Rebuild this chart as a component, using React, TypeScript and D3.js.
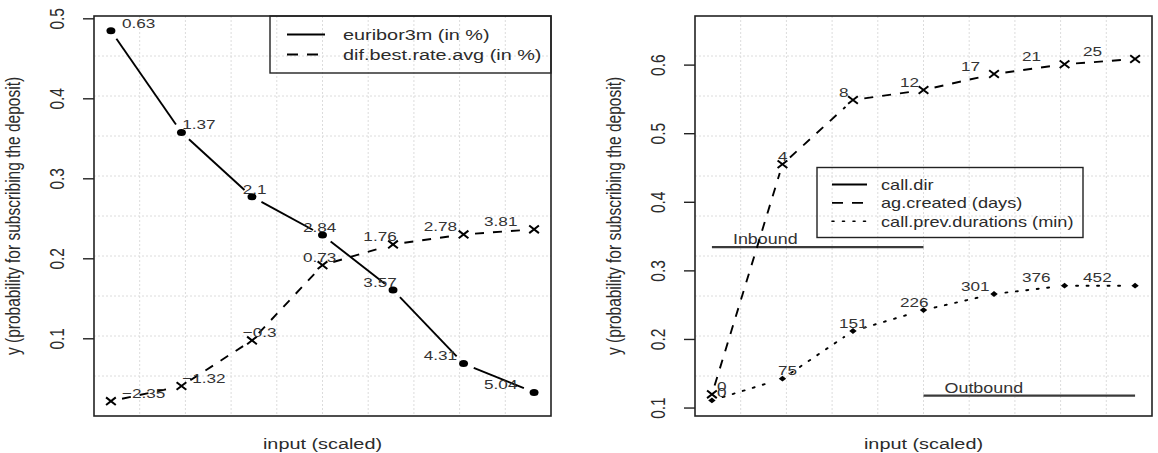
import React from "react";
import * as d3 from "d3";

const W = 1158;
const H = 453;
const SX = 1.28; // glyphs and point symbols are drawn wider than tall
const FONT = "'Liberation Sans', Arial, Helvetica, sans-serif";
const INK = "#2b2b2b";

// x positions (scaled input steps)
const steps = [1, 2, 3, 4, 5, 6, 7];

// left panel
const euriborLabels = ["0.63", "1.37", "2.1", "2.84", "3.57", "4.31", "5.04"];
const euriborProb = [0.485, 0.358, 0.2775, 0.2296, 0.161, 0.069, 0.033];
const difLabels = ["\u22122.35", "\u22121.32", "\u22120.3", "0.73", "1.76", "2.78", "3.81"];
const difProb = [0.022, 0.041, 0.098, 0.192, 0.218, 0.2305, 0.2368];
const leftTicks = [0.1, 0.2, 0.3, 0.4, 0.5];
const leftLegend = ["euribor3m (in %)", "dif.best.rate.avg (in %)"];

// right panel
const agLabels = ["0", "4", "8", "12", "17", "21", "25"];
const agProb = [0.12, 0.4554, 0.5491, 0.5637, 0.587, 0.6012, 0.6089];
const prevLabels = ["0", "75", "151", "226", "301", "376", "452"];
const prevProb = [0.1111, 0.1428, 0.2123, 0.2429, 0.2663, 0.2784, 0.2784];
const dirLevels = ["Inbound", "Outbound"];
const dirProb = [0.3347, 0.118];
const dirFrom = [1, 4];
const dirTo = [4, 7];
const rightTicks = [0.1, 0.2, 0.3, 0.4, 0.5, 0.6];
const rightYLim = [0.11, 0.65];
const rightLegend = ["call.dir", "ag.created (days)", "call.prev.durations (min)"];

const XLAB = "input (scaled)";
const YLAB = "y (probability for subscribing the deposit)";

const DASH = "9 9";
const DOT = "2 8.5";

// R-style 4% axis padding
const pad = (lo: number, hi: number): [number, number] => {
  const d = (hi - lo) * 0.04;
  return [lo - d, hi + d];
};

const TOP = 16;
const BOTTOM = 416;
const PW = 457;

type TxtProps = {
  x: number;
  y: number;
  size: number;
  anchor?: string;
  rotate?: boolean;
  fill?: string;
  children: React.ReactNode;
};

function Txt({ x, y, size, anchor = "start", rotate = false, fill = INK, children }: TxtProps) {
  const t = `translate(${x},${y}) scale(${SX},1)` + (rotate ? " rotate(-90)" : "");
  return (
    <text
      transform={t}
      fontSize={size}
      textAnchor={anchor}
      dominantBaseline="central"
      fill={fill}
      fontFamily={FONT}
    >
      {children}
    </text>
  );
}

// type="b" style: segments stop short of the points
function gappedSegments(px: number[], py: number[], gap: number) {
  const out: [number, number, number, number][] = [];
  for (let i = 0; i < px.length - 1; i++) {
    const dx = px[i + 1] - px[i];
    const dy = py[i + 1] - py[i];
    const len = Math.hypot(dx / SX, dy);
    if (len <= gap * 2) continue;
    const t = gap / len;
    out.push([px[i] + dx * t, py[i] + dy * t, px[i + 1] - dx * t, py[i + 1] - dy * t]);
  }
  return out;
}

function Dot({ x, y }: { x: number; y: number }) {
  return <ellipse cx={x} cy={y} rx={3.5 * SX} ry={3.5} fill="#000" />;
}

function Cross({ x, y }: { x: number; y: number }) {
  const a = 3.8;
  return (
    <path
      d={`M${x - a * SX},${y - a}L${x + a * SX},${y + a}M${x - a * SX},${y + a}L${x + a * SX},${y - a}`}
      stroke="#000"
      strokeWidth={2}
    />
  );
}

function Diamond({ x, y }: { x: number; y: number }) {
  const a = 2.9;
  return <path d={`M${x},${y - a}L${x + a * SX},${y}L${x},${y + a}L${x - a * SX},${y}Z`} fill="#000" />;
}

type SeriesProps = {
  x: d3.ScaleLinear<number, number>;
  y: d3.ScaleLinear<number, number>;
  lx: d3.ScaleLinear<number, number>;
  values: number[];
  labels: string[];
  dash?: string;
  marker: "dot" | "cross" | "diamond";
  cap?: "butt" | "round";
};

function Series({ x, y, lx, values, labels, dash, marker, cap = "butt" }: SeriesProps) {
  const px = steps.map((s) => x(s));
  const py = values.map((v) => y(v));
  const segs = gappedSegments(px, py, 9);
  return (
    <g>
      {segs.map((s, i) => (
        <line
          key={"s" + i}
          x1={s[0]}
          y1={s[1]}
          x2={s[2]}
          y2={s[3]}
          stroke="#000"
          strokeWidth={1.9}
          strokeDasharray={dash}
          strokeLinecap={cap}
        />
      ))}
      {steps.map((s, i) =>
        marker === "dot" ? (
          <Dot key={"m" + i} x={px[i]} y={py[i]} />
        ) : marker === "cross" ? (
          <Cross key={"m" + i} x={px[i]} y={py[i]} />
        ) : (
          <Diamond key={"m" + i} x={px[i]} y={py[i]} />
        )
      )}
      {steps.map((s, i) => (
        <Txt key={"l" + i} x={lx(s)} y={py[i] - 8} size={13.4} fill="#333">
          {labels[i]}
        </Txt>
      ))}
    </g>
  );
}

type FrameProps = {
  left: number;
  y: d3.ScaleLinear<number, number>;
  ticks: number[];
};

function Frame({ left, y, ticks }: FrameProps) {
  const right = left + PW;
  const gx = d3.range(1, 10).map((k) => left + (PW * k) / 10);
  const gy = d3.range(1, 10).map((k) => TOP + ((BOTTOM - TOP) * k) / 10);
  return (
    <g>
      {gx.map((g, i) => (
        <line key={"gx" + i} x1={g} x2={g} y1={TOP} y2={BOTTOM} stroke="#dcdcdc" strokeDasharray="2 2" />
      ))}
      {gy.map((g, i) => (
        <line key={"gy" + i} x1={left} x2={right} y1={g} y2={g} stroke="#dcdcdc" strokeDasharray="2 2" />
      ))}
      {ticks.map((t) => (
        <g key={t}>
          <line x1={left - 11} x2={left} y1={y(t)} y2={y(t)} stroke="#222" strokeWidth={1.4} />
          <Txt x={left - 37} y={y(t)} size={15.5} anchor="middle" rotate>
            {d3.format(".1f")(t)}
          </Txt>
        </g>
      ))}
      <Txt x={left - 81} y={(TOP + BOTTOM) / 2} size={15.5} anchor="middle" rotate>
        {YLAB}
      </Txt>
      <Txt x={left + PW / 2} y={443.5} size={15.5} anchor="middle">
        {XLAB}
      </Txt>
    </g>
  );
}

function Box({ left }: { left: number }) {
  return <rect x={left} y={TOP} width={PW} height={BOTTOM - TOP} fill="none" stroke="#222" strokeWidth={1.6} />;
}

function LeftPanel() {
  const left = 94;
  const x = d3.scaleLinear().domain(pad(1, 7)).range([left, left + PW]);
  const ext = d3.extent([...euriborProb, ...difProb]) as [number, number];
  const y = d3.scaleLinear().domain(pad(ext[0], ext[1])).range([BOTTOM, TOP]);
  const lx = d3.scaleLinear().domain([1, 7]).range([x(1) + 11, x(7) - 50]);
  const right = left + PW;
  const lgX = right - 281;
  return (
    <g>
      <Frame left={left} y={y} ticks={leftTicks} />
      <Series x={x} y={y} lx={lx} values={euriborProb} labels={euriborLabels} marker="dot" />
      <Series x={x} y={y} lx={lx} values={difProb} labels={difLabels} marker="cross" dash={DASH} />
      <Box left={left} />
      <rect x={lgX} y={TOP} width={281} height={57} fill="none" stroke="#222" strokeWidth={1.4} />
      {leftLegend.map((name, i) => (
        <g key={name}>
          <line
            x1={lgX + 17}
            x2={lgX + 55}
            y1={TOP + 18.5 + i * 20}
            y2={TOP + 18.5 + i * 20}
            stroke="#000"
            strokeWidth={1.9}
            strokeDasharray={i === 1 ? "11 9" : undefined}
          />
          <Txt x={lgX + 73} y={TOP + 19 + i * 20} size={15.5}>
            {name}
          </Txt>
        </g>
      ))}
    </g>
  );
}

function RightPanel() {
  const left = 695;
  const x = d3.scaleLinear().domain(pad(1, 7)).range([left, left + PW]);
  const y = d3.scaleLinear().domain(pad(rightYLim[0], rightYLim[1])).range([BOTTOM, TOP]);
  const lx = d3.scaleLinear().domain([1, 7]).range([x(1) + 5, x(7) - 52]);
  const lgX = left + 122;
  const lgY = 167.5;
  const lgDash = [undefined, "11 9", "2 8.5"];
  return (
    <g>
      <Frame left={left} y={y} ticks={rightTicks} />
      {dirLevels.map((lvl, i) => (
        <g key={lvl}>
          <line
            x1={x(dirFrom[i])}
            x2={x(dirTo[i])}
            y1={y(dirProb[i])}
            y2={y(dirProb[i])}
            stroke="#3a3a3a"
            strokeWidth={2.3}
          />
          <Txt x={x(dirFrom[i]) + 21} y={y(dirProb[i]) - 8} size={14} fill="#333">
            {lvl}
          </Txt>
        </g>
      ))}
      <Series x={x} y={y} lx={lx} values={agProb} labels={agLabels} marker="cross" dash={DASH} />
      <Series x={x} y={y} lx={lx} values={prevProb} labels={prevLabels} marker="diamond" dash={DOT} cap="round" />
      <Box left={left} />
      <rect x={lgX} y={lgY} width={266} height={70} fill="none" stroke="#222" strokeWidth={1.4} />
      {rightLegend.map((name, i) => (
        <g key={name}>
          <line
            x1={lgX + 15}
            x2={lgX + 50}
            y1={lgY + 17 + i * 18.4}
            y2={lgY + 17 + i * 18.4}
            stroke="#000"
            strokeWidth={i === 2 ? 1.6 : 1.9}
            strokeDasharray={lgDash[i]}
            strokeLinecap={i === 2 ? "round" : "butt"}
          />
          <Txt x={lgX + 64} y={lgY + 17 + i * 18.6} size={14.2}>
            {name}
          </Txt>
        </g>
      ))}
    </g>
  );
}

export default function App() {
  return (
    <svg
      width={W}
      height={H}
      viewBox={`0 0 ${W} ${H}`}
      style={{ position: "absolute", left: 0, top: 0, background: "#fff" }}
    >
      <rect width={W} height={H} fill="#fff" />
      <LeftPanel />
      <RightPanel />
    </svg>
  );
}
